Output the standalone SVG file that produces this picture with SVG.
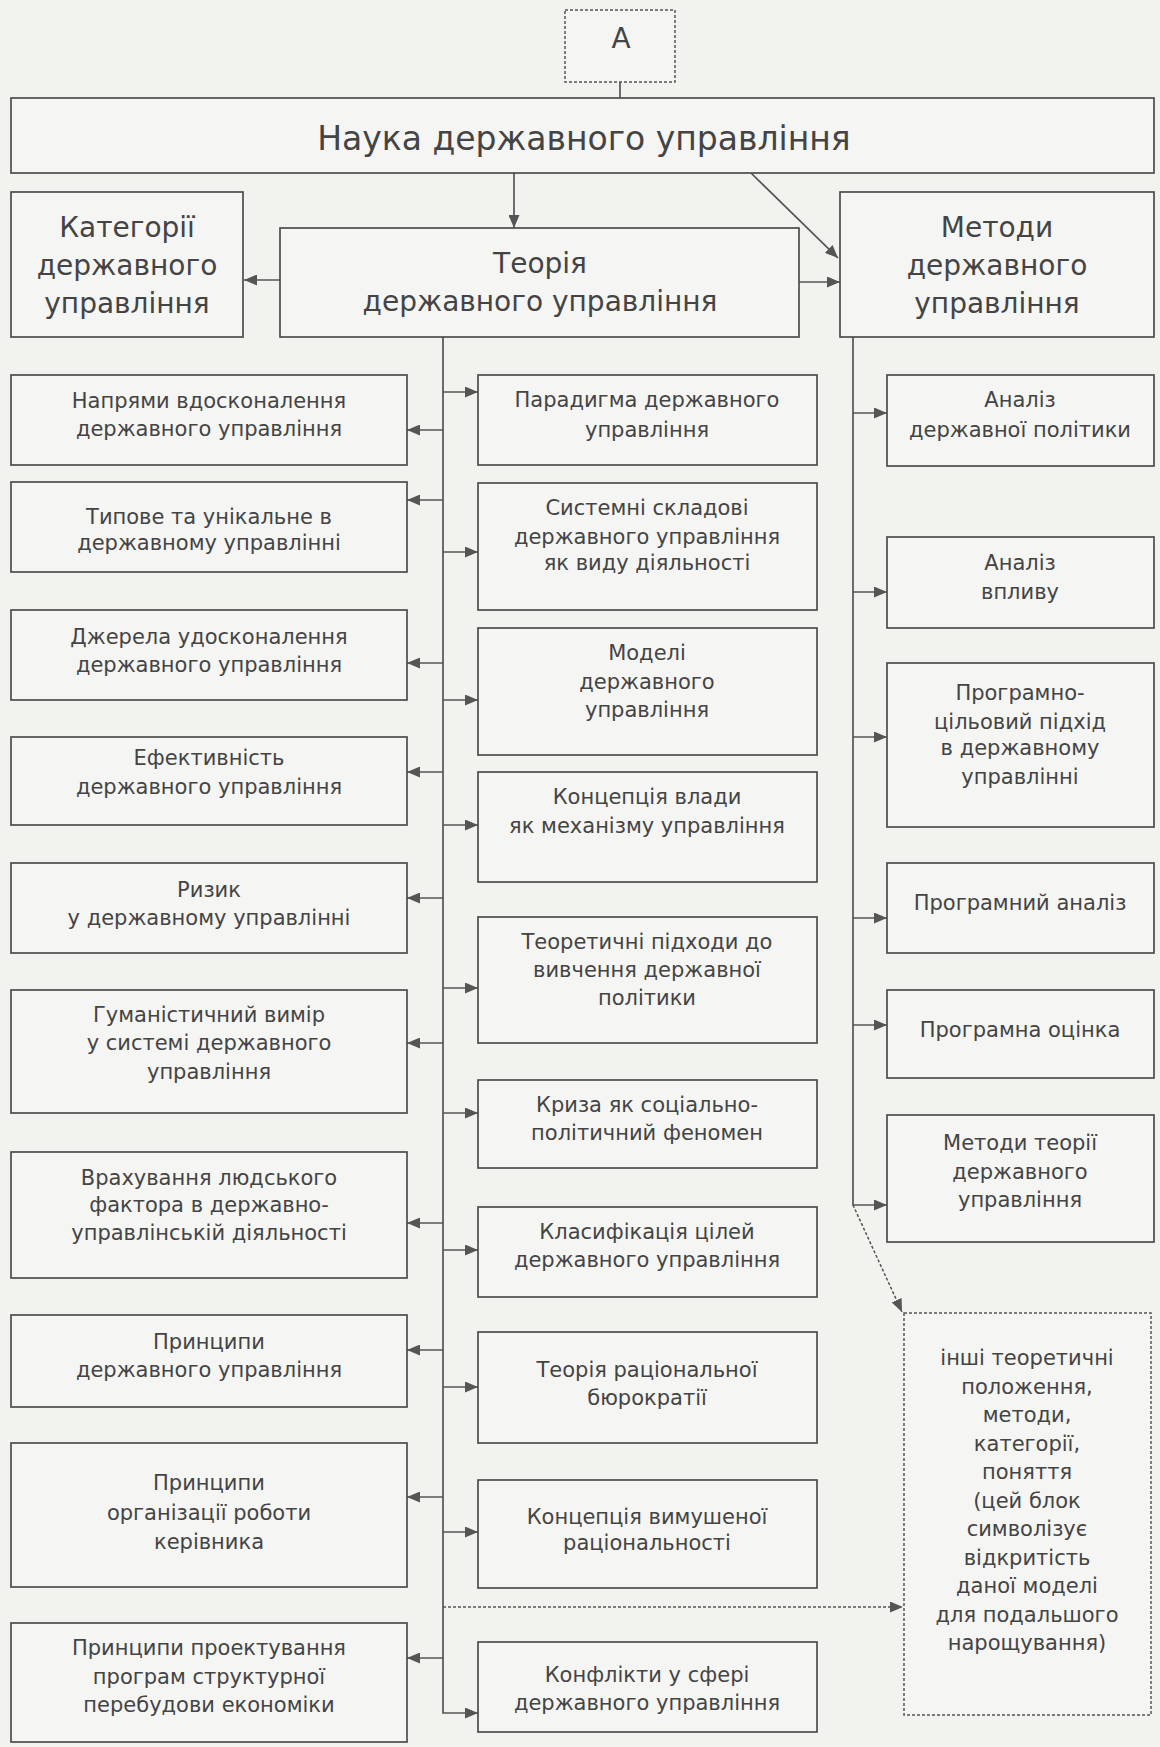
<svg xmlns="http://www.w3.org/2000/svg" width="1160" height="1747" viewBox="0 0 1160 1747">
<style>
.box{fill:#f5f5f3;stroke:#4d4d4d;stroke-width:1.7}
.dbox{fill:#f5f5f3;stroke:#555;stroke-width:1.5;stroke-dasharray:3 2}
.t{font-family:'DejaVu Sans','Liberation Sans',sans-serif;font-size:21px;fill:#444;text-anchor:middle}
.big{font-size:28px}
.title{font-size:33px}
.c{stroke:#555;stroke-width:1.7;fill:none}
.cd{stroke:#555;stroke-width:1.5;fill:none;stroke-dasharray:3 2}
</style>
<defs>
<marker id="ah" markerUnits="userSpaceOnUse" markerWidth="13" markerHeight="11" refX="13" refY="5.5" orient="auto">
<path d="M0,0 L13,5.5 L0,11 z" fill="#555"/>
</marker>
</defs>
<rect x="0" y="0" width="1160" height="1747" fill="#f2f2ef"/>

<g id="connectors">
<line class="c" x1="620" y1="82" x2="620" y2="98"/>
<line class="c" x1="514" y1="173" x2="514" y2="228" marker-end="url(#ah)"/>
<line class="c" x1="751" y1="173" x2="838" y2="258" marker-end="url(#ah)"/>
<line class="c" x1="280" y1="280" x2="244" y2="280" marker-end="url(#ah)"/>
<line class="c" x1="799" y1="282" x2="840" y2="282" marker-end="url(#ah)"/>
<path class="c" d="M443,337 V1713 H478" marker-end="url(#ah)"/>
<line class="c" x1="443" y1="430" x2="407" y2="430" marker-end="url(#ah)"/>
<line class="c" x1="443" y1="500" x2="407" y2="500" marker-end="url(#ah)"/>
<line class="c" x1="443" y1="663" x2="407" y2="663" marker-end="url(#ah)"/>
<line class="c" x1="443" y1="772" x2="407" y2="772" marker-end="url(#ah)"/>
<line class="c" x1="443" y1="898" x2="407" y2="898" marker-end="url(#ah)"/>
<line class="c" x1="443" y1="1043" x2="407" y2="1043" marker-end="url(#ah)"/>
<line class="c" x1="443" y1="1223" x2="407" y2="1223" marker-end="url(#ah)"/>
<line class="c" x1="443" y1="1350" x2="407" y2="1350" marker-end="url(#ah)"/>
<line class="c" x1="443" y1="1497" x2="407" y2="1497" marker-end="url(#ah)"/>
<line class="c" x1="443" y1="1658" x2="407" y2="1658" marker-end="url(#ah)"/>
<line class="c" x1="443" y1="392" x2="478" y2="392" marker-end="url(#ah)"/>
<line class="c" x1="443" y1="552" x2="478" y2="552" marker-end="url(#ah)"/>
<line class="c" x1="443" y1="700" x2="478" y2="700" marker-end="url(#ah)"/>
<line class="c" x1="443" y1="825" x2="478" y2="825" marker-end="url(#ah)"/>
<line class="c" x1="443" y1="988" x2="478" y2="988" marker-end="url(#ah)"/>
<line class="c" x1="443" y1="1113" x2="478" y2="1113" marker-end="url(#ah)"/>
<line class="c" x1="443" y1="1250" x2="478" y2="1250" marker-end="url(#ah)"/>
<line class="c" x1="443" y1="1387" x2="478" y2="1387" marker-end="url(#ah)"/>
<line class="c" x1="443" y1="1532" x2="478" y2="1532" marker-end="url(#ah)"/>
<path class="c" d="M853,337 V1205 H887" marker-end="url(#ah)"/>
<line class="c" x1="853" y1="413" x2="887" y2="413" marker-end="url(#ah)"/>
<line class="c" x1="853" y1="592" x2="887" y2="592" marker-end="url(#ah)"/>
<line class="c" x1="853" y1="737" x2="887" y2="737" marker-end="url(#ah)"/>
<line class="c" x1="853" y1="918" x2="887" y2="918" marker-end="url(#ah)"/>
<line class="c" x1="853" y1="1025" x2="887" y2="1025" marker-end="url(#ah)"/>
<line class="cd" x1="853" y1="1205" x2="902" y2="1312" marker-end="url(#ah)"/>
<line class="cd" x1="443" y1="1607" x2="903" y2="1607" marker-end="url(#ah)"/>
</g>

<g id="nodeA"><rect class="dbox" x="565" y="10" width="110" height="72"/><text class="t" x="621" y="48" style="font-size:28px">А</text></g>
<g id="nauka"><rect class="box" x="11" y="98" width="1143" height="75"/><text class="t title" x="584" y="150">Наука державного управління</text></g>
<g id="katehorii"><rect class="box" x="11" y="192" width="232" height="145"/><text class="t big" x="127"><tspan x="127" y="237">Категорії</tspan><tspan x="127" y="275">державного</tspan><tspan x="127" y="313">управління</tspan></text></g>
<g id="teoriia"><rect class="box" x="280" y="228" width="519" height="109"/><text class="t big" x="540"><tspan x="540" y="273">Теорія</tspan><tspan x="540" y="311">державного управління</tspan></text></g>
<g id="metody"><rect class="box" x="840" y="192" width="314" height="145"/><text class="t big" x="997"><tspan x="997" y="237">Методи</tspan><tspan x="997" y="275">державного</tspan><tspan x="997" y="313">управління</tspan></text></g>

<g id="L1"><rect class="box" x="11" y="375" width="396" height="90"/><text class="t"><tspan x="209" y="408">Напрями вдосконалення</tspan><tspan x="209" y="436">державного управління</tspan></text></g>
<g id="L2"><rect class="box" x="11" y="482" width="396" height="90"/><text class="t"><tspan x="209" y="524">Типове та унікальне в</tspan><tspan x="209" y="550">державному управлінні</tspan></text></g>
<g id="L3"><rect class="box" x="11" y="610" width="396" height="90"/><text class="t"><tspan x="209" y="644">Джерела удосконалення</tspan><tspan x="209" y="672">державного управління</tspan></text></g>
<g id="L4"><rect class="box" x="11" y="737" width="396" height="88"/><text class="t"><tspan x="209" y="765">Ефективність</tspan><tspan x="209" y="794">державного управління</tspan></text></g>
<g id="L5"><rect class="box" x="11" y="863" width="396" height="90"/><text class="t"><tspan x="209" y="897">Ризик</tspan><tspan x="209" y="925">у державному управлінні</tspan></text></g>
<g id="L6"><rect class="box" x="11" y="990" width="396" height="123"/><text class="t"><tspan x="209" y="1022">Гуманістичний вимір</tspan><tspan x="209" y="1050">у системі державного</tspan><tspan x="209" y="1079">управління</tspan></text></g>
<g id="L7"><rect class="box" x="11" y="1152" width="396" height="126"/><text class="t"><tspan x="209" y="1185">Врахування людського</tspan><tspan x="209" y="1212">фактора в державно-</tspan><tspan x="209" y="1240">управлінській діяльності</tspan></text></g>
<g id="L8"><rect class="box" x="11" y="1315" width="396" height="92"/><text class="t"><tspan x="209" y="1349">Принципи</tspan><tspan x="209" y="1377">державного управління</tspan></text></g>
<g id="L9"><rect class="box" x="11" y="1443" width="396" height="144"/><text class="t"><tspan x="209" y="1490">Принципи</tspan><tspan x="209" y="1520">організації роботи</tspan><tspan x="209" y="1549">керівника</tspan></text></g>
<g id="L10"><rect class="box" x="11" y="1623" width="396" height="119"/><text class="t"><tspan x="209" y="1655">Принципи проектування</tspan><tspan x="209" y="1684">програм структурної</tspan><tspan x="209" y="1712">перебудови економіки</tspan></text></g>

<g id="M1"><rect class="box" x="478" y="375" width="339" height="90"/><text class="t"><tspan x="647" y="407">Парадигма державного</tspan><tspan x="647" y="437">управління</tspan></text></g>
<g id="M2"><rect class="box" x="478" y="483" width="339" height="127"/><text class="t"><tspan x="647" y="515">Системні складові</tspan><tspan x="647" y="544">державного управління</tspan><tspan x="647" y="570">як виду діяльності</tspan></text></g>
<g id="M3"><rect class="box" x="478" y="628" width="339" height="127"/><text class="t"><tspan x="647" y="660">Моделі</tspan><tspan x="647" y="689">державного</tspan><tspan x="647" y="717">управління</tspan></text></g>
<g id="M4"><rect class="box" x="478" y="772" width="339" height="110"/><text class="t"><tspan x="647" y="804">Концепція влади</tspan><tspan x="647" y="833">як механізму управління</tspan></text></g>
<g id="M5"><rect class="box" x="478" y="917" width="339" height="126"/><text class="t"><tspan x="647" y="949">Теоретичні підходи до</tspan><tspan x="647" y="977">вивчення державної</tspan><tspan x="647" y="1005">політики</tspan></text></g>
<g id="M6"><rect class="box" x="478" y="1080" width="339" height="88"/><text class="t"><tspan x="647" y="1112">Криза як соціально-</tspan><tspan x="647" y="1140">політичний феномен</tspan></text></g>
<g id="M7"><rect class="box" x="478" y="1207" width="339" height="90"/><text class="t"><tspan x="647" y="1239">Класифікація цілей</tspan><tspan x="647" y="1267">державного управління</tspan></text></g>
<g id="M8"><rect class="box" x="478" y="1332" width="339" height="111"/><text class="t"><tspan x="647" y="1377">Теорія раціональної</tspan><tspan x="647" y="1405">бюрократії</tspan></text></g>
<g id="M9"><rect class="box" x="478" y="1480" width="339" height="108"/><text class="t"><tspan x="647" y="1524">Концепція вимушеної</tspan><tspan x="647" y="1550">раціональності</tspan></text></g>
<g id="M10"><rect class="box" x="478" y="1642" width="339" height="90"/><text class="t"><tspan x="647" y="1682">Конфлікти у сфері</tspan><tspan x="647" y="1710">державного управління</tspan></text></g>

<g id="R1"><rect class="box" x="887" y="375" width="267" height="91"/><text class="t"><tspan x="1020" y="407">Аналіз</tspan><tspan x="1020" y="437">державної політики</tspan></text></g>
<g id="R2"><rect class="box" x="887" y="537" width="267" height="91"/><text class="t"><tspan x="1020" y="570">Аналіз</tspan><tspan x="1020" y="599">впливу</tspan></text></g>
<g id="R3"><rect class="box" x="887" y="663" width="267" height="164"/><text class="t"><tspan x="1020" y="700">Програмно-</tspan><tspan x="1020" y="729">цільовий підхід</tspan><tspan x="1020" y="755">в державному</tspan><tspan x="1020" y="784">управлінні</tspan></text></g>
<g id="R4"><rect class="box" x="887" y="863" width="267" height="90"/><text class="t" x="1020" y="910">Програмний аналіз</text></g>
<g id="R5"><rect class="box" x="887" y="990" width="267" height="88"/><text class="t" x="1020" y="1037">Програмна оцінка</text></g>
<g id="R6"><rect class="box" x="887" y="1115" width="267" height="127"/><text class="t"><tspan x="1020" y="1150">Методи теорії</tspan><tspan x="1020" y="1179">державного</tspan><tspan x="1020" y="1207">управління</tspan></text></g>
<g id="R7"><rect class="dbox" x="904" y="1313" width="247" height="402"/><text class="t"><tspan x="1027" y="1365">інші теоретичні</tspan><tspan x="1027" y="1393.5">положення,</tspan><tspan x="1027" y="1422">методи,</tspan><tspan x="1027" y="1450.5">категорії,</tspan><tspan x="1027" y="1479">поняття</tspan><tspan x="1027" y="1507.5">(цей блок</tspan><tspan x="1027" y="1536">символізує</tspan><tspan x="1027" y="1564.5">відкритість</tspan><tspan x="1027" y="1593">даної моделі</tspan><tspan x="1027" y="1621.5">для подальшого</tspan><tspan x="1027" y="1650">нарощування)</tspan></text></g>
</svg>
